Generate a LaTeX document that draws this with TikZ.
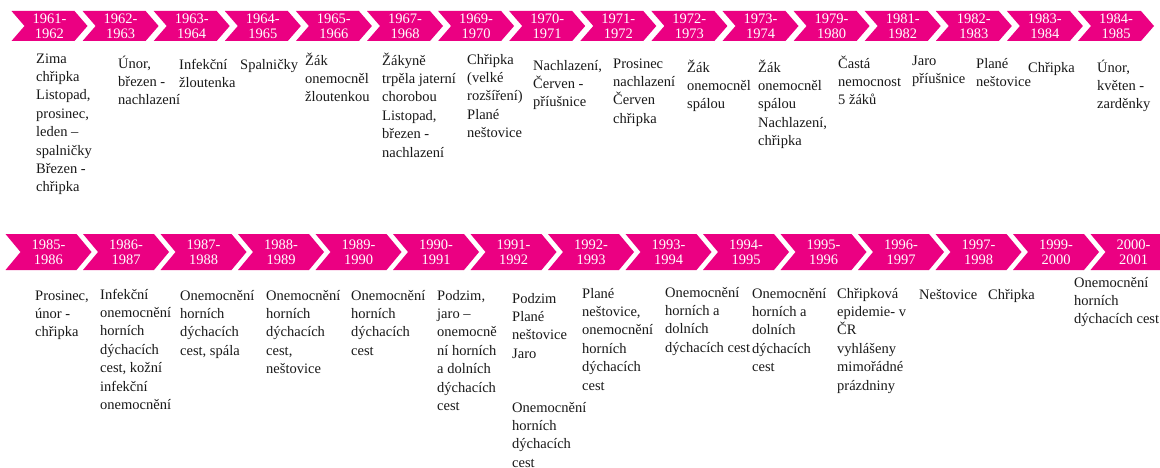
\documentclass[tikz,border=0pt]{standalone}
\usepackage{fontspec}
\setmainfont{Liberation Serif}
\newfontfamily\timesface{Liberation Serif}
\definecolor{magentapink}{RGB}{235,0,130}
\definecolor{inktext}{RGB}{25,25,25}
\tikzset{
  chevron/.style={fill=magentapink},
  yearlbl/.style={text=white, align=center, inner sep=0pt,
    font=\timesface\fontsize{14.5}{15}\selectfont},
  remarktext/.style={text=inktext, align=left, anchor=north west, inner sep=0pt,
    font=\timesface\fontsize{14.5}{18.4}\selectfont},
}
% chevron arrow: name, left x, top y, length to tip, height, label
\newcommand\chevnode[6]{%
  \fill[chevron] (#2,#3) -- ++(#4-\notch,0) -- ++(\notch,#5/2) -- ++(-\notch,#5/2)
    -- ++(-#4+\notch,0) -- ++(\notch,-#5/2) -- cycle;
  \node[yearlbl] (#1) at (#2+#4/2, #3+#5/2) {#6};
}
% text block below a chevron: name, left x, baseline of first line, text
\newcommand\remark[4]{%
  \node[remarktext] (#1) at (#2, #3-12.9) {\strut #4};
}
\begin{document}
\begin{tikzpicture}[x=1pt, y=-1pt]
\clip (0,0) rectangle (1160,468);
\fill[white] (0,0) rectangle (1160,468);

% upper row of years
\def\notch{13}
\foreach \a/\b [count=\i from 0] in {1961/1962,1962/1963,1963/1964,1964/1965,
    1965/1966,1967/1968,1969/1970,1970/1971,1971/1972,1972/1973,1973/1974,
    1979/1980,1981/1982,1982/1983,1983/1984,1984/1985}
  {\chevnode{y\a}{11.5+71.1*\i}{11}{76}{30}{\a-\\\b}}

\remark{t1961}{36}{63}{Zima\\chřipka\\Listopad,\\prosinec,\\leden –\\spalničky\\Březen -\\chřipka}
\remark{t1962}{118}{68}{Únor,\\březen -\\nachlazení}
\remark{t1963}{179}{69}{Infekční\\žloutenka}
\remark{t1964}{240}{69}{Spalničky}
\remark{t1965}{305}{65}{Žák\\onemocněl\\žloutenkou}
\remark{t1967}{382}{65}{Žákyně\\trpěla jaterní\\chorobou\\Listopad,\\březen -\\nachlazení}
\remark{t1969}{467}{64}{Chřipka\\(velké\\rozšíření)\\Plané\\neštovice}
\remark{t1970}{533}{70}{Nachlazení,\\Červen -\\příušnice}
\remark{t1971}{613}{68}{Prosinec\\nachlazení\\Červen\\chřipka}
\remark{t1972}{687}{72}{Žák\\onemocněl\\spálou}
\remark{t1973}{758}{72}{Žák\\onemocněl\\spálou\\Nachlazení,\\chřipka}
\remark{t1979}{838}{68}{Častá\\nemocnost\\5 žáků}
\remark{t1981}{912}{65}{Jaro\\příušnice}
\remark{t1982}{976}{68}{Plané\\neštovice}
\remark{t1983}{1028}{72}{Chřipka}
\remark{t1984}{1097}{72}{Únor,\\květen -\\zarděnky}

% lower row of years
\def\notch{15}
\foreach \a/\b [count=\i from 0] in {1985/1986,1986/1987,1987/1988,1988/1989,
    1989/1990,1990/1991,1991/1992,1992/1993,1993/1994,1994/1995,1995/1996,
    1996/1997,1997/1998,1999/2000,2000/2001}
  {\chevnode{y\a}{5.5+77.5*\i}{234}{86}{36}{\a-\\\b}}

\remark{t1985}{35}{300}{Prosinec,\\únor -\\chřipka}
\remark{t1986}{100}{299}{Infekční\\onemocnění\\horních\\dýchacích\\cest, kožní\\infekční\\onemocnění}
\remark{t1987}{180}{300}{Onemocnění\\horních\\dýchacích\\cest, spála}
\remark{t1988}{266}{300}{Onemocnění\\horních\\dýchacích\\cest,\\neštovice}
\remark{t1989}{351}{300}{Onemocnění\\horních\\dýchacích\\cest}
\remark{t1990}{437}{300}{Podzim,\\jaro –\\onemocně\\ní horních\\a dolních\\dýchacích\\cest}
\remark{t1991}{512}{303}{Podzim\\Plané\\neštovice\\Jaro}
\remark{t1991b}{512}{412}{Onemocnění\\horních\\dýchacích\\cest}
\remark{t1992}{582}{298}{Plané\\neštovice,\\onemocnění\\horních\\dýchacích\\cest}
\remark{t1993}{665}{297}{Onemocnění\\horních a\\dolních\\dýchacích cest}
\remark{t1994}{752}{298}{Onemocnění\\horních a\\dolních\\dýchacích\\cest}
\remark{t1995}{837}{298}{Chřipková\\epidemie- v\\ČR\\vyhlášeny\\mimořádné\\prázdniny}
\remark{t1997}{919}{299}{Neštovice}
\remark{t1999}{988}{299}{Chřipka}
\remark{t2000}{1074}{287}{Onemocnění\\horních\\dýchacích cest}
\end{tikzpicture}
\end{document}
